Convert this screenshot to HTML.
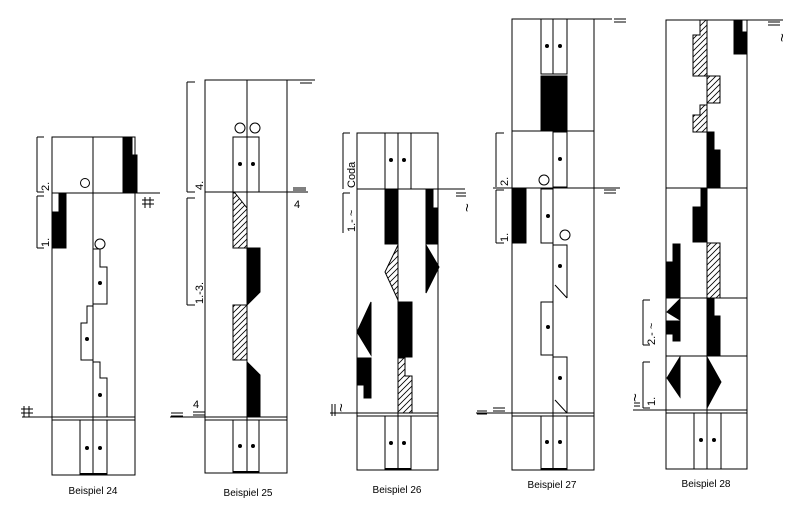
<!DOCTYPE html>
<html><head><meta charset="utf-8"><style>
html,body{margin:0;padding:0;background:#fff;}
svg{display:block;}
text{font-family:"Liberation Sans",sans-serif;fill:#000;}
</style></head><body>
<svg width="800" height="512" viewBox="0 0 800 512" xmlns="http://www.w3.org/2000/svg">
<defs>
<pattern id="h" patternUnits="userSpaceOnUse" width="6" height="6">
<rect width="6" height="6" fill="#fff"/>
<path d="M-1,7 L7,-1 M-1,1 L1,-1 M5,7 L7,5" stroke="#000" stroke-width="0.8"/>
</pattern>
</defs>
<g stroke="#000" stroke-width="1" fill="none">

<!-- ===== Beispiel 24 ===== -->
<rect x="52" y="137" width="83" height="338"/>
<line x1="93" y1="137" x2="93" y2="475"/>
<line x1="52" y1="193" x2="160" y2="193"/>
<line x1="22" y1="417" x2="135" y2="417"/>
<line x1="52" y1="420" x2="135" y2="420"/>
<path d="M123,137 H132 V155 H137 V193 H123 Z" fill="#000"/>
<circle cx="85" cy="183" r="4.5"/>
<path d="M59,193 H66 V248 H52 V212 H59 Z" fill="#000"/>
<circle cx="100" cy="244" r="5"/>
<path d="M93,249 H100 V267 H107 V304 H93"/>
<path d="M93,306 H87 V323 H81 V360 H93"/>
<path d="M93,362 H100 V378 H107 V417 H93"/>
<rect x="80" y="420" width="27" height="55"/>
<line x1="80" y1="474" x2="107" y2="474" stroke-width="2"/>
<path d="M37,137 V192 M37,137 H44 M37,192 H44 M37,196 V248 M37,196 H44 M37,248 H44"/>
<path d="M145,197 V208 M150,197 V208 M142,200 H154 M142,204 H154 M24,406 V417 M29,406 V417 M21,409 H33 M21,413 H33"/>

<!-- ===== Beispiel 25 ===== -->
<rect x="205" y="80" width="82" height="393"/>
<line x1="247" y1="80" x2="247" y2="473"/>
<line x1="205" y1="80" x2="315" y2="80"/>
<line x1="205" y1="192" x2="308" y2="192"/>
<line x1="170" y1="417" x2="287" y2="417"/>
<line x1="205" y1="420" x2="287" y2="420"/>
<circle cx="240" cy="128" r="5"/>
<circle cx="255" cy="128" r="5"/>
<rect x="233" y="137" width="26" height="55"/>
<path d="M233,193 H235 L247,208 V248 H233 Z" fill="url(#h)"/>
<path d="M247,248 H260 V292 L247,305 Z" fill="#000"/>
<rect x="233" y="305" width="14" height="55" fill="url(#h)"/>
<path d="M247,362 L260,375 V417 H247 Z" fill="#000"/>
<rect x="233" y="420" width="26" height="53"/>
<line x1="233" y1="472" x2="259" y2="472" stroke-width="2"/>
<path d="M187,82 V192 M187,82 H195 M187,192 H195 M187,198 V305 M187,198 H195 M187,305 H195"/>
<path d="M300,80 H312 M300,83 H312 M293,190 H306 M293,188 H306 M171,413 H183 M171,416 H183 M193,412 H205 M193,415 H205"/>

<!-- ===== Beispiel 26 ===== -->
<rect x="357" y="133" width="81" height="337"/>
<line x1="398" y1="133" x2="398" y2="470"/>
<line x1="357" y1="189" x2="465" y2="189"/>
<line x1="330" y1="413" x2="438" y2="413"/>
<line x1="357" y1="416" x2="438" y2="416"/>
<rect x="385" y="133" width="26" height="56"/>
<rect x="385" y="416" width="26" height="54"/>
<line x1="385" y1="469" x2="411" y2="469" stroke-width="2"/>
<rect x="385" y="189" width="13" height="55" fill="#000"/>
<path d="M426,189 H433 V208 H438 V244 H426 Z" fill="#000"/>
<path d="M398,245 L385,272 L398,300 Z" fill="url(#h)"/>
<path d="M426,245 L439,267 L426,293 Z" fill="#000"/>
<rect x="398" y="302" width="14" height="55" fill="#000"/>
<path d="M371,302 L357,332 L371,355 Z" fill="#000"/>
<path d="M357,358 H371 V398 H364 V385 H357 Z" fill="#000"/>
<path d="M398,358 H405 V376 H412 V413 H398 Z" fill="url(#h)"/>
<path d="M343,133 V189 M343,133 H350 M343,193 V233 M343,193 H350"/>
<path d="M456,193 H466 M456,196 H466 M332,404 V416 M335,404 V416"/>

<!-- ===== Beispiel 27 ===== -->
<rect x="512" y="19" width="82" height="451"/>
<line x1="512" y1="131" x2="594" y2="131"/>
<line x1="493" y1="188" x2="620" y2="188"/>
<line x1="476" y1="413" x2="594" y2="413"/>
<line x1="512" y1="416" x2="594" y2="416"/>
<line x1="594" y1="19" x2="612" y2="19"/>
<rect x="541" y="19" width="26" height="55"/>
<line x1="553" y1="19" x2="553" y2="74"/>
<rect x="541" y="76" width="26" height="54" fill="#000"/>
<rect x="553" y="132" width="14" height="55"/>
<circle cx="544" cy="180" r="5"/>
<rect x="513" y="188" width="13" height="55" fill="#000"/>
<path d="M553,188 V470"/>
<path d="M553,189 H541 V243 H553"/>
<circle cx="565" cy="235" r="5"/>
<path d="M553,245 H567 V298 M555,285 L567,298"/>
<path d="M553,302 H541 V355 H553"/>
<path d="M553,357 H567 V413 M555,400 L567,413"/>
<rect x="541" y="416" width="26" height="54"/>
<line x1="541" y1="469" x2="567" y2="469" stroke-width="2"/>
<path d="M496,133 V187 M496,133 H504 M496,190 V243 M496,190 H504 M496,243 H504"/>
<path d="M614,19 H626 M614,22 H626 M604,190 H616 M604,193 H616 M477,411 H487 M477,414 H487 M493,408 H505 M493,411 H505"/>

<!-- ===== Beispiel 28 ===== -->
<rect x="666" y="20" width="81" height="449"/>
<line x1="707" y1="20" x2="707" y2="469"/>
<line x1="747" y1="20" x2="783" y2="20"/>
<line x1="666" y1="188" x2="747" y2="188"/>
<line x1="666" y1="298" x2="747" y2="298"/>
<line x1="666" y1="356" x2="747" y2="356"/>
<line x1="633" y1="410" x2="747" y2="410"/>
<line x1="666" y1="413" x2="747" y2="413"/>
<path d="M734,20 H742 V32 H747 V54 H734 Z" fill="#000"/>
<path d="M700,20 H707 V76 H693 V35 H700 Z" fill="url(#h)"/>
<rect x="707" y="76" width="13" height="27" fill="url(#h)"/>
<path d="M700,105 H707 V132 H693 V115 H700 Z" fill="url(#h)"/>
<path d="M707,132 H714 V150 H720 V188 H707 Z" fill="#000"/>
<path d="M701,188 H707 V242 H693 V207 H701 Z" fill="#000"/>
<rect x="707" y="243" width="13" height="55" fill="url(#h)"/>
<path d="M673,244 H680 V298 H666 V262 H673 Z" fill="#000"/>
<path d="M680,299 L667,312 L680,320 Z" fill="#000"/>
<path d="M666,321 H680 V341 H673 V334 H666 Z" fill="#000"/>
<path d="M707,298 H714 V316 H720 V356 H707 Z" fill="#000"/>
<path d="M680,357 L667,378 L680,397 Z" fill="#000"/>
<path d="M707,357 L721,382 L707,408 Z" fill="#000"/>
<rect x="694" y="413" width="27" height="56"/>
<path d="M643,300 V345 M643,300 H650 M643,345 H650 M643,362 V408 M643,362 H650 M643,408 H650"/>
<path d="M768,22 H780 M768,25 H780 M634,403 H640 M634,406 H640"/>
</g>

<g fill="#000">
<circle cx="100" cy="283" r="2"/><circle cx="87" cy="339" r="2"/><circle cx="100" cy="395" r="2"/>
<circle cx="87" cy="448" r="2"/><circle cx="100" cy="448" r="2"/>
<circle cx="240" cy="164" r="2"/><circle cx="253" cy="164" r="2"/>
<circle cx="240" cy="446" r="2"/><circle cx="253" cy="446" r="2"/>
<circle cx="391" cy="160" r="2"/><circle cx="404" cy="160" r="2"/>
<circle cx="391" cy="443" r="2"/><circle cx="404" cy="443" r="2"/>
<circle cx="547" cy="46" r="2"/><circle cx="560" cy="46" r="2"/>
<circle cx="560" cy="159" r="2"/><circle cx="548" cy="216" r="2"/>
<circle cx="560" cy="266" r="2"/><circle cx="548" cy="327" r="2"/><circle cx="560" cy="378" r="2"/>
<circle cx="547" cy="442" r="2"/><circle cx="560" cy="442" r="2"/>
<circle cx="701" cy="440" r="2"/><circle cx="714" cy="440" r="2"/>
</g>

<g font-size="11">
<text transform="translate(49,191) rotate(-90)">2.</text>
<text transform="translate(49,247) rotate(-90)">1.</text>
<text transform="translate(203,190) rotate(-90)">4.</text>
<text transform="translate(203,304) rotate(-90)">1.-3.</text>
<text transform="translate(355,188) rotate(-90)">Coda</text>
<text transform="translate(355,232) rotate(-90)">1.- ~</text>
<text transform="translate(508,186) rotate(-90)">2.</text>
<text transform="translate(508,242) rotate(-90)">1.</text>
<text transform="translate(655,345) rotate(-90)">2.- ~</text>
<text transform="translate(655,406) rotate(-90)">1.</text>
<text x="294" y="208">4</text>
<text x="193" y="408">4</text>
</g>
<g font-size="15">
<text transform="translate(472,212) rotate(-90)">~</text>
<text transform="translate(787,42) rotate(-90)">~</text>
<text transform="translate(640,402) rotate(-90)">~</text>
<text transform="translate(346,412) rotate(-90)">~</text>
</g>
<g font-size="10" text-anchor="middle">
<text x="93" y="494">Beispiel 24</text>
<text x="248" y="496">Beispiel 25</text>
<text x="397" y="493">Beispiel 26</text>
<text x="552" y="488">Beispiel 27</text>
<text x="706" y="487">Beispiel 28</text>
</g>
</svg>
</body></html>
